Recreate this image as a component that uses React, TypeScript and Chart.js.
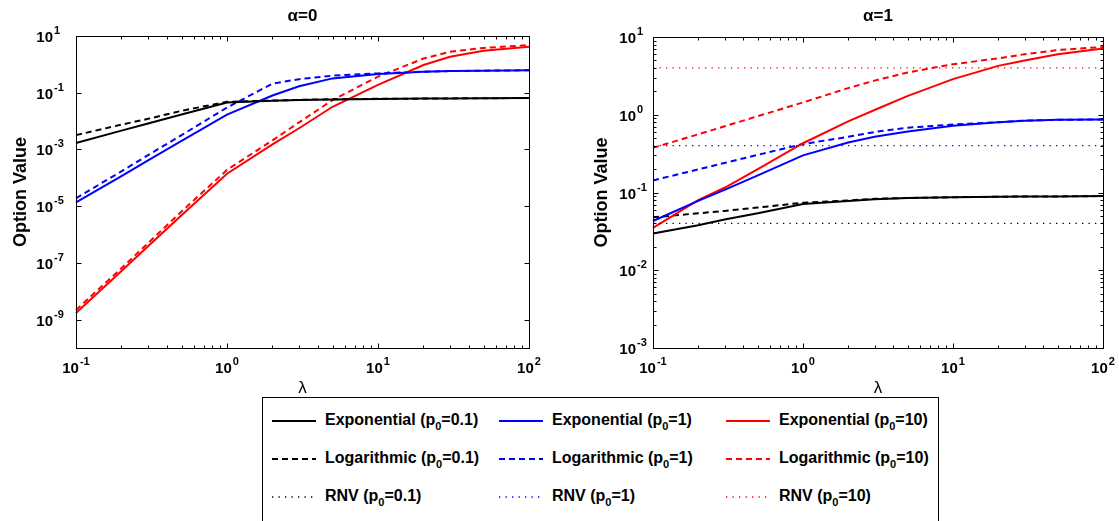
import React, { useEffect, useRef } from "react";
import { Chart, registerables } from "chart.js";

Chart.register(...registerables);

// ---------------- data ----------------
const LAMBDA = [0.1, 0.2, 0.3, 0.5, 1, 2, 3, 5, 10, 20, 30, 50, 100];
const LAMBDA_RNV = [0.1, 100];

// alpha = 0
const A0_EXP_P01 = [1.7e-3, 4.6e-3, 8.2e-3, 1.7e-2, 4.5e-2, 5.2e-2, 5.5e-2, 5.8e-2, 6.0e-2, 6.2e-2, 6.3e-2, 6.4e-2, 6.5e-2];
const A0_LOG_P01 = [3.2e-3, 7.5e-3, 1.2e-2, 2.3e-2, 4.8e-2, 5.3e-2, 5.6e-2, 5.9e-2, 6.1e-2, 6.2e-2, 6.3e-2, 6.4e-2, 6.5e-2];
const A0_EXP_P1 = [1.35e-5, 1.15e-4, 4.1e-4, 2.0e-3, 1.7e-2, 8.0e-2, 1.7e-1, 3.2e-1, 4.6e-1, 5.5e-1, 5.8e-1, 6.0e-1, 6.2e-1];
const A0_LOG_P1 = [1.9e-5, 1.7e-4, 6.3e-4, 3.2e-3, 3.0e-2, 2.1e-1, 3.0e-1, 4.0e-1, 4.8e-1, 5.5e-1, 5.8e-1, 6.0e-1, 6.2e-1];
const A0_EXP_P10 = [1.7e-9, 5.2e-8, 3.9e-7, 4.8e-6, 1.4e-4, 1.5e-3, 5.6e-3, 3.2e-2, 1.9e-1, 9.5e-1, 1.86, 3.0, 4.2];
const A0_LOG_P10 = [2.2e-9, 6.5e-8, 5.0e-7, 6.5e-6, 1.9e-4, 2.1e-3, 9.0e-3, 5.5e-2, 3.7e-1, 1.6, 2.8, 3.8, 4.8];

// alpha = 1
const A1_EXP_P01 = [0.0296, 0.038, 0.045, 0.054, 0.071, 0.078, 0.082, 0.085, 0.087, 0.088, 0.089, 0.089, 0.09];
const A1_LOG_P01 = [0.048, 0.054, 0.058, 0.064, 0.074, 0.079, 0.083, 0.085, 0.087, 0.088, 0.089, 0.089, 0.09];
const A1_RNV_P01 = [0.04, 0.04];
const A1_EXP_P1 = [0.043, 0.078, 0.108, 0.166, 0.3, 0.44, 0.52, 0.61, 0.72, 0.8, 0.84, 0.86, 0.87];
const A1_LOG_P1 = [0.143, 0.198, 0.24, 0.305, 0.42, 0.52, 0.6, 0.68, 0.75, 0.8, 0.84, 0.86, 0.87];
const A1_RNV_P1 = [0.4, 0.4];
const A1_EXP_P10 = [0.035, 0.08, 0.115, 0.2, 0.43, 0.82, 1.15, 1.75, 2.87, 4.25, 5.0, 6.0, 7.1];
const A1_LOG_P10 = [0.375, 0.56, 0.71, 0.96, 1.44, 2.2, 2.75, 3.5, 4.47, 5.3, 6.0, 6.8, 7.45];
const A1_RNV_P10 = [4.0, 4.0];

const KINDS = ["Exponential", "Logarithmic", "RNV"];
const P0_LABELS = ["0.1", "1", "10"];
const COLORS = ["#000000", "#0000ff", "#ff0000"];

const X_TICK_EXPS = [-1, 0, 1, 2];
const Y_TICK_EXPS_A0 = [1, -1, -3, -5, -7, -9];
const Y_TICK_EXPS_A1 = [1, 0, -1, -2, -3];

// ---------------- styling helpers ----------------
const FONT = '"Liberation Sans", Arial, Helvetica, sans-serif';

function styleFor(kind: number, color: string) {
  if (kind === 0) return { borderColor: color, borderWidth: 2, borderDash: [] as number[] };
  if (kind === 1) return { borderColor: color, borderWidth: 2, borderDash: [6, 4] };
  return { borderColor: color, borderWidth: 1.3, borderDash: [1.3, 5.2] };
}

function makeSet(xs: number[], ys: number[], kind: number, p: number) {
  return {
    label: `${KINDS[kind]} (p0=${P0_LABELS[p]})`,
    data: xs.map((x, i) => ({ x, y: ys[i] })),
    ...styleFor(kind, COLORS[p]),
    pointRadius: 0,
    tension: 0,
    fill: false,
    clip: false as any,
  };
}

function drawPow(ctx: CanvasRenderingContext2D, x: number, baseY: number, exp: number, mode: "right" | "center") {
  const base = "10";
  const e = exp < 0 ? "-" + Math.abs(exp) : String(exp);
  ctx.font = `bold 15px ${FONT}`;
  const wb = ctx.measureText(base).width;
  ctx.font = `bold 11px ${FONT}`;
  const we = ctx.measureText(e).width;
  let x0: number;
  if (mode === "right") x0 = x - wb;
  else x0 = x - (wb + 1 + we) / 2;
  ctx.textAlign = "left";
  ctx.textBaseline = "alphabetic";
  ctx.font = `bold 15px ${FONT}`;
  ctx.fillText(base, x0, baseY);
  ctx.font = `bold 11px ${FONT}`;
  ctx.fillText(e, x0 + wb + 1, baseY - 8);
}

const matlabAxes = {
  id: "matlabAxes",
  afterDatasetsDraw(chart: any, _args: any, opts: any) {
    const { ctx, chartArea: a, scales } = chart;
    const xs = scales.x;
    const ys = scales.y;
    ctx.save();
    ctx.strokeStyle = "#000";
    ctx.fillStyle = "#000";
    ctx.lineWidth = 1;
    const L = Math.round(a.left) + 0.5;
    const R = Math.round(a.right) + 0.5;
    const T = Math.round(a.top) + 0.5;
    const B = Math.round(a.bottom) + 0.5;
    ctx.strokeRect(L, T, R - L, B - T);
    const seg = (x1: number, y1: number, x2: number, y2: number) => {
      ctx.beginPath();
      ctx.moveTo(x1, y1);
      ctx.lineTo(x2, y2);
      ctx.stroke();
    };
    // x ticks (major + minor)
    for (let i = 0; i < X_TICK_EXPS.length; i++) {
      const e = X_TICK_EXPS[i];
      const maxM = i === X_TICK_EXPS.length - 1 ? 1 : 9;
      for (let m = 1; m <= maxM; m++) {
        const v = m * Math.pow(10, e);
        const px = Math.round(xs.getPixelForValue(v)) + 0.5;
        const len = m === 1 ? 5 : 3;
        seg(px, B, px, B - len);
        seg(px, T, px, T + len);
      }
      const px = xs.getPixelForValue(Math.pow(10, e));
      drawPow(ctx, px, a.bottom + 25, e, "center");
    }
    // y ticks
    const yExps: number[] = opts.yExps;
    for (const e of yExps) {
      const py = Math.round(ys.getPixelForValue(Math.pow(10, e))) + 0.5;
      seg(L, py, L + 5, py);
      seg(R, py, R - 5, py);
      drawPow(ctx, a.left - opts.yLabelGap, py + 5.5, e, "right");
      if (opts.yMinor && e < yExps[0]) {
        for (let m = 2; m <= 9; m++) {
          const pm = Math.round(ys.getPixelForValue(m * Math.pow(10, e))) + 0.5;
          seg(L, pm, L + 3, pm);
          seg(R, pm, R - 3, pm);
        }
      }
    }
    const cx = (a.left + a.right) / 2;
    // title
    ctx.textAlign = "center";
    ctx.textBaseline = "alphabetic";
    ctx.font = `bold 17px ${FONT}`;
    ctx.fillText(opts.title, cx, 21);
    // x title
    ctx.font = `17px ${FONT}`;
    ctx.fillText("λ", cx, a.bottom + 45);
    // y title
    ctx.save();
    ctx.translate(opts.yTitleX, (a.top + a.bottom) / 2);
    ctx.rotate(-Math.PI / 2);
    ctx.font = `bold 18px ${FONT}`;
    ctx.textBaseline = "middle";
    ctx.fillText("Option Value", 0, 0);
    ctx.restore();
    ctx.restore();
  },
};

function Panel(props: {
  left: number;
  width: number;
  height: number;
  padding: { left: number; top: number; right: number; bottom: number };
  yMin: number;
  yMax: number;
  datasets: any[];
  axesOpts: any;
}) {
  const ref = useRef<HTMLCanvasElement | null>(null);
  useEffect(() => {
    if (!ref.current) return;
    const chart = new Chart(ref.current, {
      type: "line",
      data: { datasets: props.datasets },
      options: {
        animation: false,
        responsive: false,
        maintainAspectRatio: false,
        devicePixelRatio: 1,
        layout: { padding: props.padding },
        plugins: {
          legend: { display: false },
          tooltip: { enabled: false },
          matlabAxes: props.axesOpts,
        } as any,
        scales: {
          x: { type: "logarithmic", min: 0.1, max: 100, display: false },
          y: { type: "logarithmic", min: props.yMin, max: props.yMax, display: false },
        },
        events: [],
      },
      plugins: [matlabAxes as any],
    });
    return () => chart.destroy();
  }, []);
  return (
    <canvas
      ref={ref}
      width={props.width}
      height={props.height}
      style={{ position: "absolute", left: props.left, top: 0, width: props.width, height: props.height }}
    />
  );
}

function LegendSample({ kind, color }: { kind: number; color: string }) {
  const s = styleFor(kind, color);
  return (
    <svg width={44} height={6} style={{ position: "absolute", left: 0, top: -3, display: "block" }}>
      <line
        x1={0}
        y1={3}
        x2={44}
        y2={3}
        stroke={color}
        strokeWidth={s.borderWidth}
        strokeDasharray={s.borderDash.length ? s.borderDash.join(" ") : undefined}
      />
    </svg>
  );
}

const LEGEND_COL_X = [9, 236, 463];
const LEGEND_ROW_Y = [24, 62, 100];

export default function App() {
  const left0 = [
    makeSet(LAMBDA, A0_EXP_P01, 0, 0),
    makeSet(LAMBDA, A0_EXP_P1, 0, 1),
    makeSet(LAMBDA, A0_EXP_P10, 0, 2),
    makeSet(LAMBDA, A0_LOG_P01, 1, 0),
    makeSet(LAMBDA, A0_LOG_P1, 1, 1),
    makeSet(LAMBDA, A0_LOG_P10, 1, 2),
  ];
  const right1 = [
    makeSet(LAMBDA_RNV, A1_RNV_P01, 2, 0),
    makeSet(LAMBDA_RNV, A1_RNV_P1, 2, 1),
    makeSet(LAMBDA_RNV, A1_RNV_P10, 2, 2),
    makeSet(LAMBDA, A1_EXP_P01, 0, 0),
    makeSet(LAMBDA, A1_EXP_P1, 0, 1),
    makeSet(LAMBDA, A1_EXP_P10, 0, 2),
    makeSet(LAMBDA, A1_LOG_P01, 1, 0),
    makeSet(LAMBDA, A1_LOG_P1, 1, 1),
    makeSet(LAMBDA, A1_LOG_P10, 1, 2),
  ];
  return (
    <div
      style={{
        position: "absolute",
        left: 0,
        top: 0,
        width: 1119,
        height: 521,
        overflow: "hidden",
        background: "#fff",
        fontFamily: FONT,
      }}
    >
      <Panel
        left={0}
        width={560}
        height={400}
        padding={{ left: 76, top: 36, right: 31, bottom: 52 }}
        yMin={1e-10}
        yMax={10}
        datasets={left0}
        axesOpts={{ title: "α=0", yExps: Y_TICK_EXPS_A0, yMinor: false, yLabelGap: 23, yTitleX: 21 }}
      />
      <Panel
        left={560}
        width={559}
        height={400}
        padding={{ left: 93, top: 37, right: 16, bottom: 52 }}
        yMin={1e-3}
        yMax={10}
        datasets={right1}
        axesOpts={{ title: "α=1", yExps: Y_TICK_EXPS_A1, yMinor: true, yLabelGap: 17, yTitleX: 42 }}
      />
      <div
        style={{
          position: "absolute",
          left: 262,
          top: 397,
          width: 677,
          height: 140,
          border: "1px solid #000",
          boxSizing: "border-box",
          background: "#fff",
        }}
      >
        {KINDS.map((k, r) =>
          P0_LABELS.map((p, c) => (
            <div
              key={k + p}
              style={{ position: "absolute", left: LEGEND_COL_X[c], top: LEGEND_ROW_Y[r] - 1, height: 0 }}
            >
              <LegendSample kind={r} color={COLORS[c]} />
              <span
                style={{
                  position: "absolute",
                  left: 53,
                  top: -11,
                  whiteSpace: "nowrap",
                  fontWeight: "bold",
                  fontSize: 16,
                  lineHeight: "19px",
                  color: "#000",
                }}
              >
                {k} (p
                <span style={{ fontSize: 11, position: "relative", top: 5 }}>0</span>={p})
              </span>
            </div>
          ))
        )}
      </div>
    </div>
  );
}
